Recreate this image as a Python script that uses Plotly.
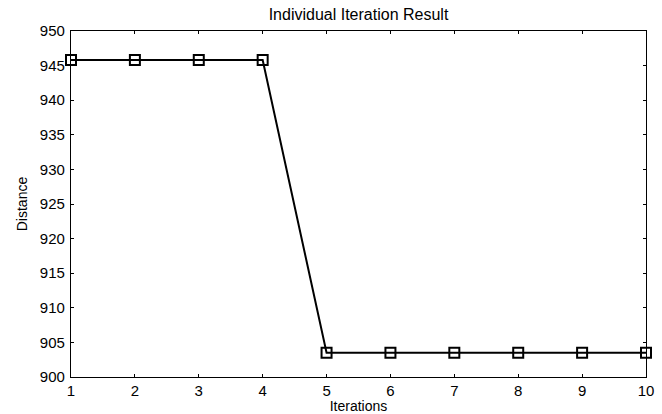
import plotly.graph_objects as go

iterations = [1, 2, 3, 4, 5, 6, 7, 8, 9, 10]
distance = [945.8, 945.8, 945.8, 945.8, 903.5, 903.5, 903.5, 903.5, 903.5, 903.5]
y_ticks = [900, 905, 910, 915, 920, 925, 930, 935, 940, 945, 950]

FONT = "Liberation Sans"

fig = go.Figure()
fig.add_trace(go.Scatter(
    x=iterations, y=distance, mode="lines+markers",
    line=dict(color="black", width=2),
    marker=dict(symbol="square-open", size=10, color="black", line=dict(width=2)),
    cliponaxis=False, showlegend=False))

axis_common = dict(showline=True, linecolor="black", linewidth=1.3, mirror="ticks",
                   ticks="inside", ticklen=3, tickcolor="black", tickwidth=1, showgrid=False,
                   zeroline=False, automargin=False,
                   tickfont=dict(family=FONT, size=15, color="black"))
fig.update_xaxes(range=[1, 10], tickvals=iterations, ticklabelstandoff=0,
                 title=dict(text="Iterations", standoff=0,
                            font=dict(family=FONT, size=14, color="black")), **axis_common)
fig.update_yaxes(range=[900, 950], tickvals=y_ticks, ticklabelstandoff=2,
                 title=dict(text="Distance", standoff=8,
                            font=dict(family=FONT, size=14, color="black")), **axis_common)
fig.update_layout(
    width=662, height=414, margin=dict(l=71, r=16, t=31, b=37),
    paper_bgcolor="white", plot_bgcolor="white",
    title=dict(text="Individual Iteration Result", x=(71 + 646) / 2 / 662, xanchor="center",
               y=1 - 14 / 414, yanchor="middle",
               font=dict(family=FONT, size=16, color="black")),
)
fig.write_html("out.html")
